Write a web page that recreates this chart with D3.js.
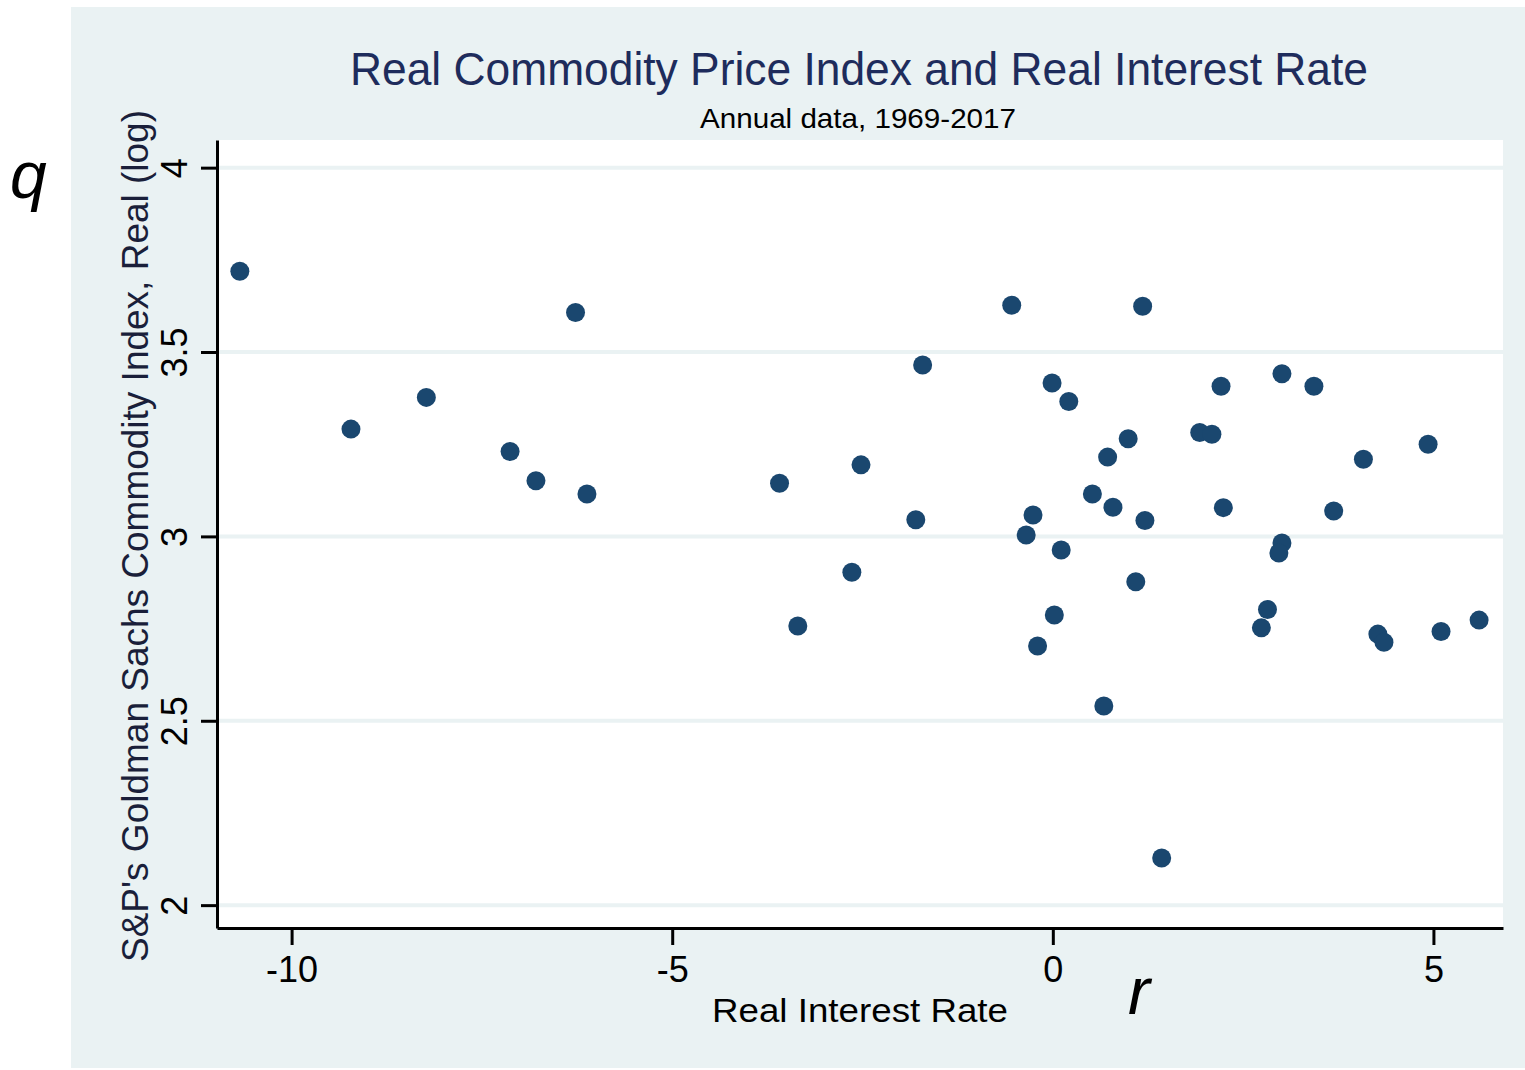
<!DOCTYPE html>
<html>
<head>
<meta charset="utf-8">
<script src="https://cdn.jsdelivr.net/npm/d3@7"></script>
<style>
  body { margin: 0; background: #fff; }
  svg { display: block; font-family: "Liberation Sans", Arial, sans-serif; }
</style>
</head>
<body>
<div id="chart"></div>
<script>
// real interest rate (x) and log real commodity index (y)
const rate = [-10.68, -6.27, -9.22, -8.23, -7.13, -6.79, -6.12,
  -0.54, 1.18, -1.71, -0.01, 0.21, 0.99, 0.72, -2.52, -3.59, 0.52, 0.79, 1.21,
  -0.26, -1.80, -0.35, 0.11, -2.64, 1.09, -3.35, 0.02, -0.20, 0.67,
  2.21, 3.01, 3.43, 1.93, 2.09, 4.93, 4.08, 2.24, 3.69, 3.01, 2.97,
  2.82, 2.74, 4.27, 4.35, 5.10, 5.60, 1.43]
const commodity = [3.719, 3.607, 3.291, 3.377, 3.230, 3.151, 3.115,
  3.627, 3.624, 3.465, 3.416, 3.366, 3.265, 3.215, 3.194, 3.144, 3.115, 3.079, 3.043,
  3.058, 3.045, 3.004, 2.963, 2.903, 2.877, 2.757, 2.787, 2.703, 2.540,
  3.407, 3.441, 3.407, 3.282, 3.277, 3.250, 3.209, 3.078, 3.069, 2.982, 2.955,
  2.802, 2.752, 2.735, 2.713, 2.742, 2.773, 2.128]

const xTicks = [-10, -5, 0, 5]
const yTicks = [2, 2.5, 3, 3.5, 4]

const W = 1525, H = 1070
const plot = { left: 217, right: 1503, top: 140, bottom: 928 }
const bg = "#eaf2f3"
const navy = "#1a476f"

let svg = d3.select("#chart")
    .append("svg")
    .attr("width", W)
    .attr("height", H)

// graph region
svg.append("rect")
    .attr("x", 71).attr("y", 7)
    .attr("width", W - 71).attr("height", 1061)
    .attr("fill", bg)

svg.append("rect")
    .attr("x", plot.left).attr("y", plot.top)
    .attr("width", plot.right - plot.left)
    .attr("height", plot.bottom - plot.top)
    .attr("fill", "#fff")

let x = d3.scaleLinear()
    .domain([-10.98, 5.914])
    .range([plot.left, plot.right])

let y = d3.scaleLinear()
    .domain([1.938, 4.075])
    .range([plot.bottom, plot.top])

// gridlines
svg.append("g")
    .selectAll("line")
    .data(yTicks)
    .enter()
    .append("line")
    .attr("x1", plot.left).attr("x2", plot.right)
    .attr("y1", d => y(d)).attr("y2", d => y(d))
    .attr("stroke", bg)
    .attr("stroke-width", 4)

// points
svg.append("g")
    .selectAll("circle")
    .data(rate.map((r, i) => ({ r: r, q: commodity[i] })))
    .enter()
    .append("circle")
    .attr("cx", d => x(d.r))
    .attr("cy", d => y(d.q))
    .attr("r", 9.5)
    .attr("fill", navy)

// Y axis
let gy = svg.append("g")
    .attr("transform", "translate(" + plot.left + ",0)")
    .call(d3.axisLeft(y).tickValues(yTicks).tickSize(16).tickSizeOuter(0)
        .tickFormat(d => String(d)))

gy.selectAll("text")
    .attr("x", null).attr("dy", null)
    .attr("transform", "translate(-30,0) rotate(-90)")
    .attr("text-anchor", "middle")

// X axis
let gx = svg.append("g")
    .attr("transform", "translate(0," + plot.bottom + ")")
    .call(d3.axisBottom(x).tickValues(xTicks).tickSize(17).tickSizeOuter(0)
        .tickFormat(d => String(d)))

gx.selectAll("text")
    .attr("y", 54).attr("dy", null)

svg.selectAll(".domain, .tick line")
    .attr("stroke", "#000")
    .attr("stroke-width", 3)

svg.selectAll(".tick text")
    .attr("fill", "#000")
    .style("font-size", "36px")
    .style("font-family", "'Liberation Sans', Arial, sans-serif")

// titles
svg.append("text")
    .attr("x", 859).attr("y", 85)
    .attr("text-anchor", "middle")
    .attr("textLength", 1018).attr("lengthAdjust", "spacingAndGlyphs")
    .style("font-size", "46px")
    .attr("fill", "#1e2c5c")
    .text("Real Commodity Price Index and Real Interest Rate")

svg.append("text")
    .attr("x", 858).attr("y", 128)
    .attr("text-anchor", "middle")
    .attr("textLength", 316).attr("lengthAdjust", "spacingAndGlyphs")
    .style("font-size", "28px")
    .attr("fill", "#000")
    .text("Annual data, 1969-2017")

svg.append("text")
    .attr("x", 860).attr("y", 1022)
    .attr("text-anchor", "middle")
    .attr("textLength", 296).attr("lengthAdjust", "spacingAndGlyphs")
    .style("font-size", "34px")
    .attr("fill", "#000")
    .text("Real Interest Rate")

svg.append("text")
    .attr("transform", "translate(148,536) rotate(-90)")
    .attr("text-anchor", "middle")
    .attr("textLength", 852).attr("lengthAdjust", "spacingAndGlyphs")
    .style("font-size", "36px")
    .attr("fill", "#1a1f3a")
    .text("S&P's Goldman Sachs Commodity Index, Real (log)")

// slide annotations
svg.append("text")
    .attr("x", 10).attr("y", 198)
    .style("font-size", "66px").style("font-style", "italic")
    .attr("fill", "#000")
    .text("q")

svg.append("text")
    .attr("x", 1128).attr("y", 1014)
    .style("font-size", "66px").style("font-style", "italic")
    .attr("fill", "#000")
    .text("r")
</script>
</body>
</html>
